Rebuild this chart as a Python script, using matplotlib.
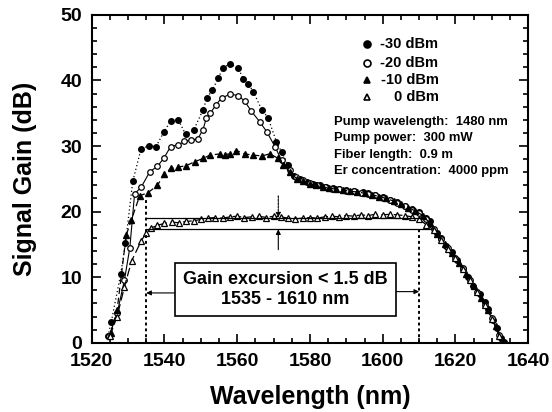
import matplotlib
matplotlib.use("Agg")
import matplotlib.pyplot as plt
from matplotlib.ticker import MultipleLocator

plt.rcParams['font.family'] = ['Liberation Sans', 'DejaVu Sans']
plt.rcParams['font.weight'] = 'bold'

# -30 dBm (filled circles)
wl_m30 = [1524.5, 1525.4, 1528.0, 1529.3, 1531.3, 1533.6, 1535.7, 1537.7, 1539.9, 1541.7,
          1543.8, 1545.8, 1548.1, 1550.6, 1551.7, 1553.2, 1554.8, 1556.0, 1558.0, 1560.3,
          1561.7, 1563.0, 1564.4, 1566.8, 1568.5, 1570.8, 1572.2, 1574.0, 1575.5, 1577.2,
          1579.1, 1580.8, 1582.7, 1584.5, 1586.4, 1588.0, 1590.0, 1592.0, 1594.6, 1596.0,
          1598.0, 1600.0, 1602.0, 1603.8, 1606.0, 1608.0, 1610.1, 1612.0, 1612.9, 1614.8,
          1616.0, 1617.5, 1619.0, 1620.5, 1622.2, 1623.5, 1624.9, 1626.8, 1628.0, 1629.0,
          1630.4, 1631.5, 1632.6, 1633.2]
g_m30 = [1.0, 3.2, 10.5, 15.2, 24.6, 29.6, 30.0, 29.9, 32.2, 33.8,
         34.0, 31.8, 32.5, 35.5, 37.3, 38.6, 40.3, 41.9, 42.5, 41.9,
         40.2, 39.5, 38.3, 35.5, 34.3, 30.6, 29.1, 27.1, 25.5, 25.0,
         24.5, 24.2, 24.0, 23.8, 23.6, 23.5, 23.3, 23.1, 23.0, 22.8,
         22.5, 22.2, 21.8, 21.4, 20.9, 20.4, 19.9, 19.1, 18.6, 16.8,
         15.9, 14.8, 13.8, 12.6, 11.2, 10.0, 8.6, 7.4, 6.2, 5.1,
         3.5, 2.2, 0.7, 0.1]

# -20 dBm (open circles)
wl_m20 = [1524.8, 1527.0, 1529.0, 1530.5, 1531.8, 1533.6, 1536.0, 1538.1, 1539.9, 1541.7,
          1543.8, 1545.5, 1547.4, 1549.2, 1550.6, 1551.5, 1552.6, 1554.2, 1555.7, 1558.0,
          1560.3, 1562.1, 1563.9, 1566.2, 1568.1, 1570.4, 1572.2, 1574.5, 1576.3, 1578.0,
          1580.0, 1582.0, 1584.0, 1586.0, 1588.0, 1590.0, 1592.0, 1594.0, 1596.0, 1598.0,
          1600.0, 1602.0, 1604.0, 1606.0, 1608.0, 1610.0, 1612.0, 1614.0, 1616.0, 1618.0,
          1620.0, 1622.0, 1624.0, 1626.0, 1628.0, 1630.0, 1632.0]
g_m20 = [1.0, 4.5, 9.5, 14.5, 22.7, 23.7, 26.1, 26.9, 28.2, 29.9,
         30.2, 30.7, 30.9, 31.1, 32.5, 34.2, 35.0, 36.3, 37.3, 37.9,
         37.7, 36.8, 35.3, 33.7, 32.2, 29.9, 27.8, 26.3, 25.2, 24.8,
         24.3, 24.0, 23.7, 23.5, 23.4, 23.2, 23.1, 22.9, 22.7, 22.5,
         22.1, 21.7, 21.3, 20.8, 20.3, 19.8, 18.9, 17.4, 15.8, 14.4,
         13.0, 11.4, 9.6, 7.8, 5.8, 3.8, 1.2]

# -10 dBm (filled triangles)
wl_m10 = [1525.2, 1527.0, 1529.5, 1530.9, 1533.2, 1535.5, 1538.1, 1540.0, 1541.9, 1543.8,
          1546.0, 1548.3, 1550.6, 1552.5, 1555.2, 1556.6, 1558.0, 1559.8, 1562.1, 1564.4,
          1566.8, 1569.0, 1571.3, 1572.7, 1574.5, 1576.4, 1578.2, 1580.0, 1581.8, 1583.6,
          1585.3, 1587.2, 1589.0, 1591.0, 1593.0, 1595.0, 1597.0, 1599.0, 1601.0, 1603.0,
          1605.0, 1607.0, 1609.0, 1611.0, 1613.0, 1615.0, 1617.0, 1619.0, 1621.0, 1623.0,
          1625.0, 1627.0, 1629.0, 1631.0, 1632.8]
g_m10 = [1.5, 5.0, 16.4, 18.7, 22.4, 22.9, 24.0, 25.8, 26.6, 26.8,
         27.0, 27.6, 28.1, 28.6, 28.8, 28.7, 28.8, 29.3, 28.8, 28.6,
         28.5, 28.8, 28.1, 27.1, 26.0, 25.0, 24.6, 24.2, 24.0, 23.7,
         23.6, 23.4, 23.3, 23.1, 23.0, 22.8, 22.6, 22.3, 22.0, 21.6,
         21.1, 20.6, 20.1, 19.4, 18.2, 16.6, 15.1, 13.7, 12.2, 10.5,
         8.7, 6.8, 5.0, 2.6, 0.4]

# 0 dBm (open triangles)
wl_0 = [1525.0, 1527.0, 1529.0, 1531.0, 1533.6, 1535.0, 1536.4, 1538.0, 1540.0, 1542.0,
        1544.0, 1546.0, 1548.0, 1550.0, 1552.0, 1554.0, 1556.0, 1558.0, 1560.0, 1562.0,
        1564.0, 1566.0, 1568.0, 1570.0, 1572.0, 1574.0, 1576.0, 1578.0, 1580.0, 1582.0,
        1584.0, 1586.0, 1588.0, 1590.0, 1592.0, 1594.0, 1596.0, 1598.0, 1600.0, 1602.0,
        1604.0, 1606.0, 1608.0, 1610.0, 1612.0, 1614.0, 1616.0, 1618.0, 1620.0, 1622.0,
        1624.0, 1626.0, 1628.0, 1630.0, 1632.0]
g_0 = [1.0, 4.0, 8.5, 12.5, 15.5, 16.8, 17.5, 17.9, 18.2, 18.4,
       18.3, 18.5, 18.6, 18.8, 19.0, 19.1, 19.0, 19.2, 19.3, 19.1,
       19.2, 19.3, 19.1, 19.3, 19.2, 19.0, 18.9, 19.0, 19.1, 19.0,
       19.2, 19.3, 19.2, 19.4, 19.3, 19.5, 19.4, 19.6, 19.5, 19.6,
       19.5, 19.4, 19.2, 18.8, 18.0, 17.2, 15.7, 14.3, 12.9, 11.3,
       9.5, 7.7, 5.7, 3.7, 1.1]

# excursion limits and band edges
gain_hi = 19.1
gain_lo = 17.3
band = [1535, 1610]
legend_labels = ['-30 dBm', '-20 dBm', '-10 dBm', '0 dBm']
params = ['Pump wavelength:  1480 nm', 'Pump power:  300 mW',
          'Fiber length:  0.9 m', 'Er concentration:  4000 ppm']

fig = plt.figure(figsize=(5.52, 4.12), dpi=100)
ax = fig.add_axes([0.166, 0.168, 0.791, 0.796])

ms = 4.0
ax.plot(wl_m30, g_m30, color='black', ls=(0, (1, 2)), lw=0.9, marker='o', ms=ms,
        mfc='black', mec='black')
ax.plot(wl_m20, g_m20, color='black', ls='-', lw=0.8, marker='o', ms=ms,
        mfc='white', mec='black', mew=0.9)
ax.plot(wl_m10, g_m10, color='black', ls=(0, (5, 3)), lw=0.9, marker='^', ms=ms,
        mfc='black', mec='black')
ax.plot(wl_0, g_0, color='black', ls=(0, (7, 3)), lw=0.9, marker='^', ms=ms,
        mfc='white', mec='black', mew=0.9)

# excursion reference lines
ax.plot([band[0], 1611], [gain_hi, gain_hi], color='black', lw=0.9)
ax.plot([band[0], 1613], [gain_lo, gain_lo], color='black', lw=0.9)
ax.plot([band[0], band[0]], [0, 22], color='black', ls=(0, (1.5, 1.5)), lw=1.4)
ax.plot([band[1], band[1]], [0, gain_lo], color='black', ls=(0, (1.5, 1.5)), lw=1.4)

# arrows pointing at the excursion lines
ax.annotate('', xy=(1571.3, gain_hi), xytext=(1571.3, 22.4),
            arrowprops=dict(arrowstyle='-|>', color='black', lw=0.8, ls=(0, (2, 1)),
                            mutation_scale=7, shrinkA=0, shrinkB=0))
ax.annotate('', xy=(1571.3, gain_lo), xytext=(1571.3, 14.2),
            arrowprops=dict(arrowstyle='-|>', color='black', lw=0.8,
                            mutation_scale=7, shrinkA=0, shrinkB=0))
ax.annotate('', xy=(band[0], 7.6), xytext=(1543.5, 7.6),
            arrowprops=dict(arrowstyle='-|>', color='black', lw=0.8,
                            mutation_scale=7, shrinkA=0, shrinkB=0))
ax.annotate('', xy=(band[1], 7.8), xytext=(1603.5, 7.8),
            arrowprops=dict(arrowstyle='-|>', color='black', lw=0.8,
                            mutation_scale=7, shrinkA=0, shrinkB=0))

ax.text(1573.3, 8.15, 'Gain excursion < 1.5 dB\n1535 - 1610 nm', ha='center', va='center',
        fontsize=13, fontweight='bold', linespacing=1.2,
        bbox=dict(boxstyle='square,pad=0.45', fc='white', ec='black', lw=1.2))

# legend drawn by hand
leg_y = [45.5, 42.7, 40.0, 37.4]
leg_style = [('o', 'black'), ('o', 'white'), ('^', 'black'), ('^', 'white')]
for yy, (mk, fc), lab in zip(leg_y, leg_style, legend_labels):
    ax.plot([1595.6], [yy], marker=mk, ms=5, mfc=fc, mec='black', mew=1.2, ls='none')
    ax.text(1615.3, yy, lab, ha='right', va='center', fontsize=10.5, fontweight='bold')

for i, t in enumerate(params):
    ax.text(1586.6, 33.6 - i * 2.45, t, ha='left', va='center', fontsize=9.4,
            fontweight='bold')

ax.set_xlim(1520, 1640)
ax.set_ylim(0, 50)
ax.xaxis.set_major_locator(MultipleLocator(20))
ax.xaxis.set_minor_locator(MultipleLocator(5))
ax.yaxis.set_major_locator(MultipleLocator(10))
ax.yaxis.set_minor_locator(MultipleLocator(2))
ax.tick_params(which='both', direction='in', top=True, right=True, width=1.2)
ax.tick_params(which='major', length=6.5, labelsize=14, pad=7)
ax.tick_params(which='minor', length=3.5)
for lab in ax.get_xticklabels() + ax.get_yticklabels():
    lab.set_fontweight('bold')
for sp in ax.spines.values():
    sp.set_linewidth(1.5)

ax.set_xlabel('Wavelength (nm)', fontsize=18, fontweight='bold', labelpad=11)
ax.set_ylabel('Signal Gain (dB)', fontsize=18, fontweight='bold', labelpad=17)

fig.savefig('out.png', dpi=100)
